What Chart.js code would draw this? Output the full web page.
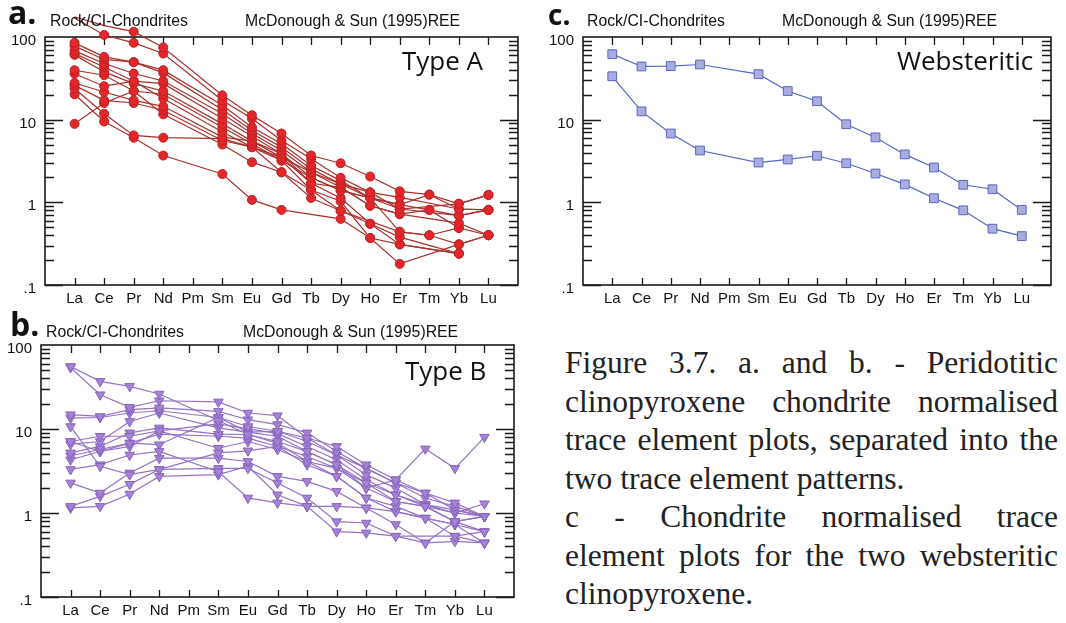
<!DOCTYPE html>
<html>
<head>
<meta charset="utf-8">
<script src="https://cdn.jsdelivr.net/npm/chart.js@4"></script>
<style>
  body { margin:0; background:#fff; width:1066px; height:623px; overflow:hidden; position:relative;
         font-family:"Liberation Sans", Arial, sans-serif; color:#111; }
  canvas { position:absolute; }
  .txt { position:absolute; white-space:nowrap; line-height:1; }
  .letter { font-family:"Open Sans", sans-serif; font-weight:700; }
  .head { font-size:15.8px; }
  .type { font-family:"Open Sans", sans-serif; font-size:26px; }
  #caption { position:absolute; left:565px; top:344px; width:493px;
             font-family:"Liberation Serif", "Times New Roman", serif; font-size:31.5px; line-height:38.5px; color:#222; }
  #caption div { white-space:nowrap; }
  #caption .j { text-align:justify; text-align-last:justify; }
</style>
</head>
<body>

<canvas id="chartA" width="530" height="310" style="left:0;top:0"></canvas>
<canvas id="chartB" width="530" height="313" style="left:0;top:310px"></canvas>
<canvas id="chartC" width="536" height="310" style="left:530px;top:0"></canvas>

<div class="txt letter" style="left:8px;top:-4px;font-size:32px">a.</div>
<div class="txt head" style="left:50px;top:13px">Rock/CI-Chondrites</div>
<div class="txt head" style="left:245px;top:13px">McDonough &amp; Sun (1995)REE</div>
<div class="txt type" style="left:402px;top:47px">Type A</div>

<div class="txt letter" style="left:10px;top:308px;font-size:32px">b.</div>
<div class="txt head" style="left:46px;top:324px">Rock/CI-Chondrites</div>
<div class="txt head" style="left:243px;top:324px">McDonough &amp; Sun (1995)REE</div>
<div class="txt type" style="left:405px;top:357px">Type B</div>

<div class="txt letter" style="left:548px;top:0px;font-size:28px">c.</div>
<div class="txt head" style="left:587px;top:13px">Rock/CI-Chondrites</div>
<div class="txt head" style="left:782px;top:13px">McDonough &amp; Sun (1995)REE</div>
<div class="txt type" style="left:897px;top:47px">Websteritic</div>

<div id="caption">
  <div class="j">Figure 3.7. a. and b. - Peridotitic</div>
  <div class="j">clinopyroxene chondrite normalised</div>
  <div class="j">trace element plots, separated into the</div>
  <div>two trace element patterns.</div>
  <div class="j">c - Chondrite normalised trace</div>
  <div class="j">element plots for the two websteritic</div>
  <div>clinopyroxene.</div>
</div>

<script>
// REE order along the x axis (Pm has no analyses)
const elements = ["La","Ce","Pr","Nd","Pm","Sm","Eu","Gd","Tb","Dy","Ho","Er","Tm","Yb","Lu"];

const yLabelValues = [0.1, 1, 10, 100];
const yLabelText = [".1", "1", "10", "100"];

// chondrite-normalised clinopyroxene, one row per sample
const typeA = [
    [176, 137, 116, 74.8, null, 19.7, 11.3, 6.8, 3.69, 2.97, 2.05, 1.36, 1.24, 0.96, 1.23],
    [170, 106, 85, 63.2, null, 17.1, 10.3, 5.6, 3.36, 1.98, 1.32, 1.15, null, 0.83, 0.81],
    [85, 57.5, 49.6, 39.7, null, 14.9, 8.1, 5.1, 2.79, 1.83, 1.13, 0.94, 0.81, 0.69, 0.81],
    [77.6, 53.5, 49.6, 36.8, null, 13.2, 7.4, 4.65, 2.54, 1.67, 1.32, 0.83, null, 0.96, 1.23],
    [68, 47.8, 36.2, 29.4, null, 11.8, 6.8, 4.24, 2.31, 1.52, 0.91, 0.72, null, 0.56, 0.40],
    [63, 43.4, 29.2, 27.3, null, 10.3, 6.3, 3.87, 2.0, 1.39, 1.13, 0.44, 0.40, 0.31, 0.40],
    [60.8, 37.8, 27.3, 22.2, null, 8.9, 5.5, 3.5, 1.70, 1.13, 0.55, 0.38, null, 0.24, null],
    [39.6, 34.5, 22.2, 20.3, null, 8.1, 5.1, 3.2, 1.41, 1.03, 0.37, 0.18, null, 0.31, 0.40],
    [36, 25.4, 29.2, 18, null, 7.1, 4.65, 3.2, 2.0, 1.39, 1.13, 0.83, null, 0.69, 0.81],
    [27.8, 21.6, 17.1, 14.5, null, 6.15, 5.5, 3.87, 1.70, 1.52, 0.91, 0.72, 0.81, 0.49, null],
    [26, 17.1, 15.9, 13, null, 5.6, 4.65, 2.31, 1.41, 0.79, 0.55, 0.31, null, 0.24, null],
    [8.9, 15.9, 22.2, 11.6, null, 5.0, 3.06, 2.31, 1.13, 0.79, null, 0.44, 0.40, 0.49, 0.40],
    [23.8, 11.8, 6.45, 6.05, null, 5.9, 4.65, 3.5, 2.31, 1.67, 1.13, 0.94, 1.24, 0.83, 0.81],
    [20.3, 9.5, 6.05, 3.68, null, 2.2, 1.07, 0.81, null, 0.63, 0.37, 0.31, null, 0.24, null]
];

const typeB = [
    [55.6, 36.9, 32.2, 26.1, null, 12.6, 8.6, 7.1, 5.4, 3.76, 2.28, 1.37, 1.2, 0.79, 0.91],
    [54, 25.6, 18.1, 21.7, null, 21, 15.5, 14.4, 7.8, 6.2, 3.76, 2.49, 1.73, 1.32, 0.91],
    [14.8, 14.1, 17, 17.8, null, 16.2, 12.9, 11.3, 9.0, 5.4, 3.4, 2.28, 1.51, 1.2, 0.91],
    [13.5, 13.7, 15.5, 16.5, null, 13.7, 10.7, 9.4, 7.1, 4.9, 2.86, 1.98, 1.26, 1.09, 0.91],
    [10.7, 3.6, 2.86, 3.3, null, 5.2, 5.5, 6.2, 4.7, 3.4, 2.28, 1.65, 1.26, 1.0, 1.29],
    [7.1, 8.2, 8.2, 9.5, null, 11.5, 10.1, 8.8, 6.2, 4.3, 2.49, 1.65, 1.2, 0.79, 0.60],
    [6.6, 7.1, 12.3, 15.5, null, 10.3, 9.2, 8.2, 5.4, 3.76, 1.98, 1.37, 1.2, 1.0, 0.91],
    [5.2, 6.2, 9.0, 10.3, null, 8.7, 8.6, 6.8, 4.1, 2.73, 1.51, 1.2, 0.87, 0.73, 0.44],
    [4.8, 5.7, 6.8, 8.7, null, 8.2, 7.8, 6.2, 3.76, 2.73, 1.51, 1.04, 0.87, 0.53, 0.60],
    [4.3, 5.4, 6.2, 9.5, null, 5.9, 7.1, 5.7, 4.1, 3.4, 1.98, 2.49, 5.8, 3.4, 8.0],
    [3.3, 3.76, 4.9, 5.4, null, 3.1, 1.51, 1.32, 1.2, 0.60, 0.58, 0.53, 0.44, 0.46, 0.44],
    [2.28, 1.73, 3.0, 4.5, null, 4.5, 4.1, 2.73, 2.38, 1.81, 1.15, 0.73, 0.44, 0.79, 0.91],
    [1.2, 1.58, 2.2, 3.3, null, 3.4, 3.4, 2.28, 1.51, 0.79, 0.76, 0.53, null, 0.53, 0.44],
    [1.15, 1.2, 1.68, 2.73, null, 2.86, 3.6, 1.65, 1.2, 1.2, 1.15, 1.04, 0.87, 0.73, 0.60],
    [7.1, 5.4, 6.8, 6.5, null, 13.7, 9.2, 9.4, 7.8, 4.9, 3.4, 2.28, 1.73, 1.09, 0.91]
];

const websteritic = [
    [62, 44, 44.5, 46.5, null, 35.5, 22.2, 16.7, 8.8, 6.1, 3.8, 2.64, 1.63, 1.44, 0.81],
    [33.5, 12.6, 6.8, 4.24, null, 3.03, 3.3, 3.66, 2.97, 2.23, 1.65, 1.12, 0.80, 0.48, 0.39]
];

/* ------------------- frame + inward ticks ------------------ */

const framePlugin = {
    id: "frame",
    beforeDatasetsDraw(chart) {
        const { ctx, chartArea: a, scales: { x, y } } = chart;
        ctx.save();
        ctx.strokeStyle = "#1a1a1a";
        ctx.lineWidth = 1.6;
        ctx.strokeRect(a.left, a.top, a.right - a.left, a.bottom - a.top);

        ctx.lineWidth = 1.3;
        ctx.beginPath();
        elements.forEach((el, i) => {
            const px = Math.round(x.getPixelForValue(i)) + 0.5;
            ctx.moveTo(px, a.top); ctx.lineTo(px, a.top + 8);
            ctx.moveTo(px, a.bottom); ctx.lineTo(px, a.bottom - 7);
        });
        for (const decade of [0.1, 1, 10]) {
            for (let k = 1; k <= 9; k++) {
                const v = decade * k;
                const py = Math.round(y.getPixelForValue(v)) + 0.5;
                const len = k === 1 ? 18 : 9;
                ctx.moveTo(a.left, py); ctx.lineTo(a.left + len, py);
                ctx.moveTo(a.right, py); ctx.lineTo(a.right - len, py);
            }
        }
        ctx.stroke();
        ctx.restore();
    }
};

/* ------------------- charts ------------------ */

function toPoints(row) {
    return row.map((v, i) => ({ x: i, y: v })).filter(p => p.y != null);
}

function makeChart(id, rows, look, box) {
    return new Chart(document.getElementById(id), {
        type: "line",
        data: {
            datasets: rows.map(row => ({
                data: toPoints(row),
                borderColor: look.line,
                borderWidth: 1.2,
                pointStyle: look.point,
                pointRotation: look.rotation || 0,
                pointRadius: look.radius,
                pointBackgroundColor: look.fill,
                pointBorderColor: look.edge,
                pointBorderWidth: 1,
                tension: 0,
                clip: false
            }))
        },
        options: {
            responsive: false,
            animation: false,
            layout: { padding: { top: box.top, right: box.right, left: 0, bottom: 0 } },
            plugins: { legend: { display: false }, tooltip: { enabled: false } },
            scales: {
                x: {
                    type: "linear", min: -1, max: 15,
                    afterBuildTicks: s => { s.ticks = elements.map((e, i) => ({ value: i })); },
                    afterFit: s => { s.height = box.xh; },
                    grid: { display: false, drawTicks: false },
                    border: { display: false },
                    ticks: {
                        autoSkip: false, maxRotation: 0, padding: 5, color: "#111",
                        font: { family: "Liberation Sans", size: 15 },
                        callback: v => elements[v] ?? ""
                    }
                },
                y: {
                    type: "logarithmic", min: 0.1, max: 100,
                    afterBuildTicks: s => { s.ticks = yLabelValues.map(v => ({ value: v })); },
                    afterFit: s => { s.width = box.yw; },
                    grid: { display: false, drawTicks: false },
                    border: { display: false },
                    ticks: {
                        padding: 9, labelOffset: 4, color: "#111",
                        font: { family: "Liberation Sans", size: 15 },
                        callback: v => yLabelText[yLabelValues.indexOf(v)] ?? ""
                    }
                }
            }
        },
        plugins: [framePlugin]
    });
}

makeChart("chartA", typeA,
    { line: "#a8302c", point: "circle", radius: 4.5, fill: "#e3262a", edge: "#b92224" },
    { top: 37, right: 12, yw: 45, xh: 25 });

makeChart("chartB", typeB,
    { line: "#9472c6", point: "triangle", rotation: 180, radius: 5.5, fill: "#a383d2", edge: "#8862bf" },
    { top: 35, right: 16, yw: 41, xh: 26 });

makeChart("chartC", websteritic,
    { line: "#5565c6", point: "rect", radius: 6.2, fill: "#a9acdf", edge: "#5b66c0" },
    { top: 37, right: 15, yw: 53, xh: 25 });
</script>
</body>
</html>
